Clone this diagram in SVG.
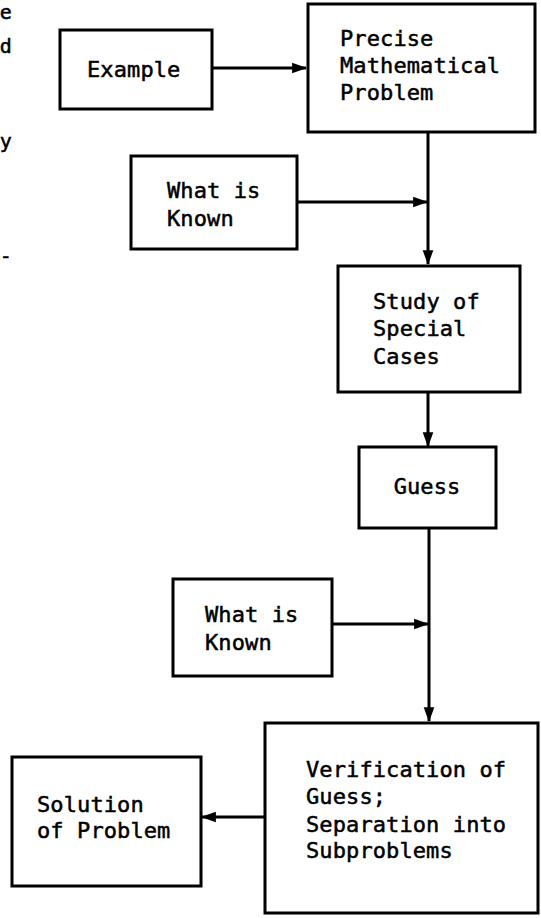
<svg xmlns="http://www.w3.org/2000/svg" width="541" height="918" viewBox="0 0 541 918">
<style>
rect.box{fill:#fff;stroke:#000;stroke-width:3}
text{font-family:"DejaVu Sans Mono","Liberation Mono",monospace;font-size:22px;letter-spacing:0.1px;fill:#000;stroke:#000;stroke-width:0.5}
text.frag{font-size:20px}
.edge{stroke:#000;stroke-width:3;fill:none}
</style>
<defs>
<marker id="ah" markerUnits="userSpaceOnUse" markerWidth="16" markerHeight="12" refX="13" refY="5" orient="auto" viewBox="0 0 15 10">
<path d="M0,0 L14,5 L0,10 Z" fill="#000"/>
</marker>
</defs>
<rect width="541" height="918" fill="#fff"/>
<g id="margin-fragments">
<text class="frag" x="12" y="19" text-anchor="end">e</text>
<text class="frag" x="12" y="53" text-anchor="end">d</text>
<text class="frag" x="12" y="148" text-anchor="end">y</text>
<text class="frag" x="12" y="263" text-anchor="end">-</text>
</g>
<g id="connectors">
<line class="edge" x1="212" y1="68" x2="306" y2="68" marker-end="url(#ah)"/>
<line class="edge" x1="428" y1="132" x2="428" y2="264" marker-end="url(#ah)"/>
<line class="edge" x1="297" y1="202" x2="427" y2="202" marker-end="url(#ah)"/>
<line class="edge" x1="428" y1="392" x2="428" y2="446" marker-end="url(#ah)"/>
<line class="edge" x1="429" y1="528" x2="429" y2="721" marker-end="url(#ah)"/>
<line class="edge" x1="332" y1="624" x2="428" y2="624" marker-end="url(#ah)"/>
<line class="edge" x1="264" y1="817" x2="202" y2="817" marker-end="url(#ah)"/>
</g>
<g id="example">
<rect class="box" x="60" y="30" width="152" height="79"/>
<text x="87" y="77">Example</text>
</g>
<g id="precise-problem">
<rect class="box" x="308" y="4" width="227" height="128"/>
<text x="340" y="46">Precise</text>
<text x="340" y="73">Mathematical</text>
<text x="340" y="100">Problem</text>
</g>
<g id="known-1">
<rect class="box" x="131" y="156" width="166" height="93"/>
<text x="167" y="198">What is</text>
<text x="167" y="226">Known</text>
</g>
<g id="special-cases">
<rect class="box" x="338" y="266" width="182" height="126"/>
<text x="373" y="309">Study of</text>
<text x="373" y="336">Special</text>
<text x="373" y="364">Cases</text>
</g>
<g id="guess">
<rect class="box" x="359" y="447" width="137" height="81"/>
<text x="427" y="494" text-anchor="middle">Guess</text>
</g>
<g id="known-2">
<rect class="box" x="173" y="579" width="159" height="97"/>
<text x="205" y="622">What is</text>
<text x="205" y="650">Known</text>
</g>
<g id="verification">
<rect class="box" x="265" y="723" width="273" height="190"/>
<text x="306" y="777">Verification of</text>
<text x="306" y="804">Guess;</text>
<text x="306" y="832">Separation into</text>
<text x="306" y="858">Subproblems</text>
</g>
<g id="solution">
<rect class="box" x="12" y="757" width="189" height="129"/>
<text x="37" y="812">Solution</text>
<text x="37" y="838">of Problem</text>
</g>
</svg>
